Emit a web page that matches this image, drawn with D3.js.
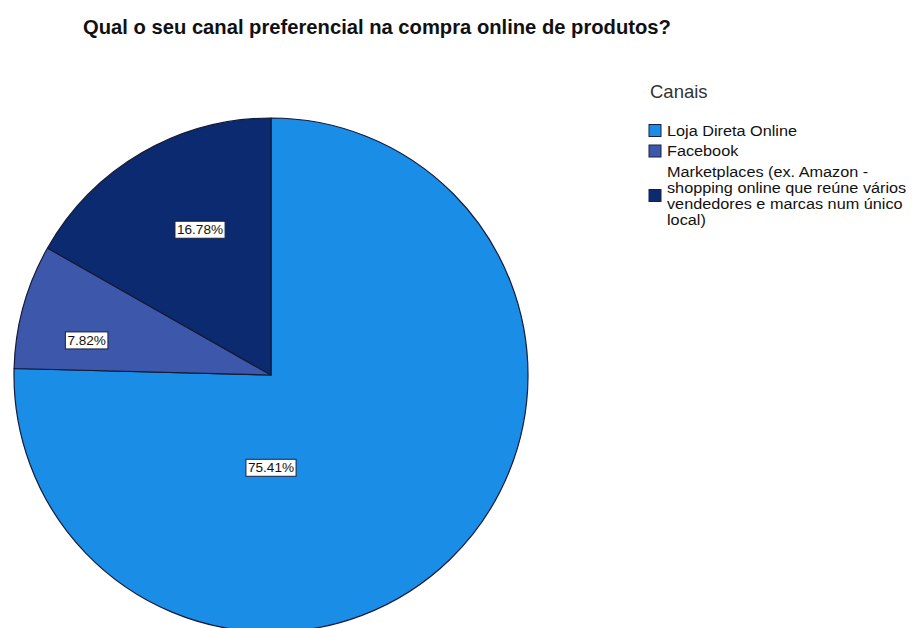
<!DOCTYPE html>
<html>
<head>
<meta charset="utf-8">
<script src="https://cdn.jsdelivr.net/npm/d3@7"></script>
<style>
  html, body { margin: 0; padding: 0; background: #fff; }
  svg { display: block; }
</style>
</head>
<body>
<svg id="chart" width="912" height="628"></svg>
<script>
// Survey answers: preferred channel for buying products online
const categories = [
  "Loja Direta Online",
  "Facebook",
  "Marketplaces (ex. Amazon - shopping online que reúne vários vendedores e marcas num único local)"
];
const percentages = [75.41, 7.82, 16.78];
const legendLines = [
  ["Loja Direta Online"],
  ["Facebook"],
  ["Marketplaces (ex. Amazon -", "shopping online que reúne vários", "vendedores e marcas num único", "local)"]
];
const sliceColors = ["#1a8ee6", "#3d58aa", "#0c2a70"];
const chartTitle = "Qual o seu canal preferencial na compra online de produtos?";
const legendTitle = "Canais";

// Layout
const W = 912, H = 628;
const cx = 271, cy = 375, R = 257;
// Label anchors: angle (degrees, clockwise from top) and fraction of the radius
const labelAnchors = [
  { angle: 180, frac: 0.36 },
  { angle: 280.7, frac: 0.73 },
  { angle: 334, frac: 0.63 }
];

const svg = d3.select("#chart");
const font = "'Liberation Sans', Arial, sans-serif";

svg.append("text")
  .attr("x", 377).attr("y", 34)
  .attr("text-anchor", "middle")
  .attr("font-family", font)
  .attr("font-weight", "bold")
  .attr("font-size", 20.2)
  .attr("fill", "#111")
  .text(chartTitle);

const data = categories.map((c, i) => ({ cat: c, value: percentages[i], color: sliceColors[i] }));

const pie = d3.pie().sort(null).value(d => d.value);
const arc = d3.arc().innerRadius(0).outerRadius(R);
const arcs = pie(data);

const g = svg.append("g").attr("transform", `translate(${cx},${cy})`);

g.selectAll("path.slice")
  .data(arcs)
  .join("path")
  .attr("class", "slice")
  .attr("d", arc)
  .attr("fill", d => d.data.color)
  .attr("stroke", "#141a3a")
  .attr("stroke-width", 1.2)
  .attr("stroke-linejoin", "round");

// Percentage labels in white boxes
const lbl = g.selectAll("g.lbl")
  .data(arcs)
  .join("g")
  .attr("class", "lbl")
  .attr("transform", (d, i) => {
    const a = labelAnchors[i].angle * Math.PI / 180;
    const r = labelAnchors[i].frac * R;
    return `translate(${r * Math.sin(a)},${-r * Math.cos(a)})`;
  });

lbl.append("text")
  .attr("text-anchor", "middle")
  .attr("dy", "0.35em")
  .attr("font-family", font)
  .attr("font-size", 13.6)
  .attr("fill", "#111")
  .text(d => d.data.value.toFixed(2) + "%");

lbl.each(function () {
  const gEl = d3.select(this);
  const bb = gEl.select("text").node().getBBox();
  gEl.insert("rect", "text")
    .attr("x", bb.x - 2).attr("y", bb.y - 1)
    .attr("width", bb.width + 4).attr("height", bb.height + 2)
    .attr("fill", "#fff")
    .attr("stroke", "#1a2040")
    .attr("stroke-width", 1);
});

// Legend
const lg = svg.append("g");
lg.append("text")
  .attr("x", 650).attr("y", 98)
  .attr("font-family", font)
  .attr("font-size", 18.5)
  .attr("fill", "#333")
  .text(legendTitle);

// Legend text is slightly condensed vertically: a narrower line pitch with widened glyphs
const lineH = 16;
const stretchX = 1.16;
let y = 131;
legendLines.forEach((lines, i) => {
  const blockTop = y;
  const tg = lg.append("g")
    .attr("transform", `translate(667,0) scale(${stretchX},1)`);
  lines.forEach((ln, k) => {
    tg.append("text")
      .attr("x", 0).attr("y", y + k * lineH + 5)
      .attr("font-family", font)
      .attr("font-size", 14)
      .attr("fill", "#111")
      .text(ln);
  });
  const mid = blockTop + (lines.length - 1) * lineH / 2;
  lg.append("rect")
    .attr("x", 649).attr("y", mid - 6.5)
    .attr("width", 12).attr("height", 12)
    .attr("fill", sliceColors[i])
    .attr("stroke", "#1a2040")
    .attr("stroke-width", 1);
  y += (lines.length - 1) * lineH + 20.5;
});
</script>
</body>
</html>
